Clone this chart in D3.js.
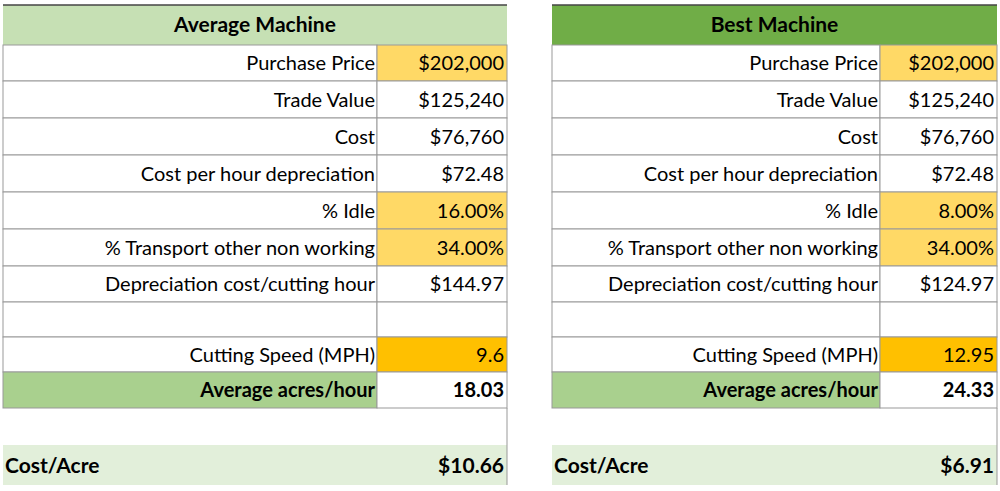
<!DOCTYPE html>
<html><head><meta charset="utf-8">
<script src="https://cdn.jsdelivr.net/npm/d3@7"></script>
<style>body{margin:0;background:#fff}svg{display:block}</style></head>
<body><svg id="c" width="1000" height="491"></svg>
<script>
const titles=["Average Machine","Best Machine"];
const labels=["Purchase Price","Trade Value","Cost","Cost per hour depreciation","% Idle","% Transport other non working","Depreciation cost/cutting hour","","Cutting Speed (MPH)","Average acres/hour"];
const avgValues=["$202,000","$125,240","$76,760","$72.48","16.00%","34.00%","$144.97","","9.6","18.03"];
const bestValues=["$202,000","$125,240","$76,760","$72.48","8.00%","34.00%","$124.97","","12.95","24.33"];
const costAcre=["$10.66","$6.91"];
const valueFill=["#FFD966","#fff","#fff","#fff","#FFD966","#FFD966","#fff","#fff","#FFC000","#fff"];
const labelFill=["#fff","#fff","#fff","#fff","#fff","#fff","#fff","#fff","#fff","#A9D08E"];
const rowEdges=[45,81,118,155,192,229,266,302,337,372,408];
const svg=d3.select("#c");
const font="Lato, 'Open Sans', sans-serif";
const tables=[{x0:3,xm:377,x1:507,head:"#C6E0B4",vals:avgValues},{x0:552,xm:880,x1:997,head:"#70AD47",vals:bestValues}];
tables.forEach((t,ti)=>{
  const g=svg.append("g");
  const y=d3.scaleOrdinal().domain(d3.range(labels.length)).range(rowEdges.slice(0,-1));
  const h=i=>rowEdges[i+1]-rowEdges[i];
  g.append("rect").attr("x",t.x0).attr("y",5).attr("width",t.x1-t.x0).attr("height",40).attr("fill",t.head);
  g.append("line").attr("x1",t.x0).attr("x2",t.x1).attr("y1",5).attr("y2",5).attr("stroke","#444").attr("stroke-width",1.5);
  g.append("text").attr("x",(t.x0+t.x1)/2).attr("y",32).attr("text-anchor","middle").attr("font-family",font).attr("font-weight","bold").attr("font-size",21).text(titles[ti]);
  labels.forEach((l,i)=>{
    g.append("rect").attr("x",t.x0).attr("y",y(i)).attr("width",t.xm-t.x0).attr("height",h(i)).attr("fill",labelFill[i]).attr("stroke","#999");
    g.append("rect").attr("x",t.xm).attr("y",y(i)).attr("width",t.x1-t.xm).attr("height",h(i)).attr("fill",valueFill[i]).attr("stroke","#999");
    const bold=i===9;
    g.append("text").attr("x",t.xm-2).attr("y",y(i)+h(i)/2+7).attr("text-anchor","end").attr("font-family",font).attr("font-size",20).attr("font-weight",bold?"bold":"normal").text(l);
    g.append("text").attr("x",t.x1-3).attr("y",y(i)+h(i)/2+7).attr("text-anchor","end").attr("font-family",font).attr("font-size",20).attr("font-weight",bold?"bold":"normal").text(t.vals[i]);
  });
  g.append("rect").attr("x",t.x0).attr("y",445).attr("width",t.x1-t.x0).attr("height",40).attr("fill","#E2EFDA");
  g.append("line").attr("x1",t.x1).attr("x2",t.x1).attr("y1",408).attr("y2",485).attr("stroke","#999");
  g.append("text").attr("x",t.x0+2).attr("y",473).attr("font-family",font).attr("font-weight","bold").attr("font-size",21).text("Cost/Acre");
  g.append("text").attr("x",t.x1-3).attr("y",473).attr("text-anchor","end").attr("font-family",font).attr("font-weight","bold").attr("font-size",21).text(costAcre[ti]);
});
</script></body></html>
